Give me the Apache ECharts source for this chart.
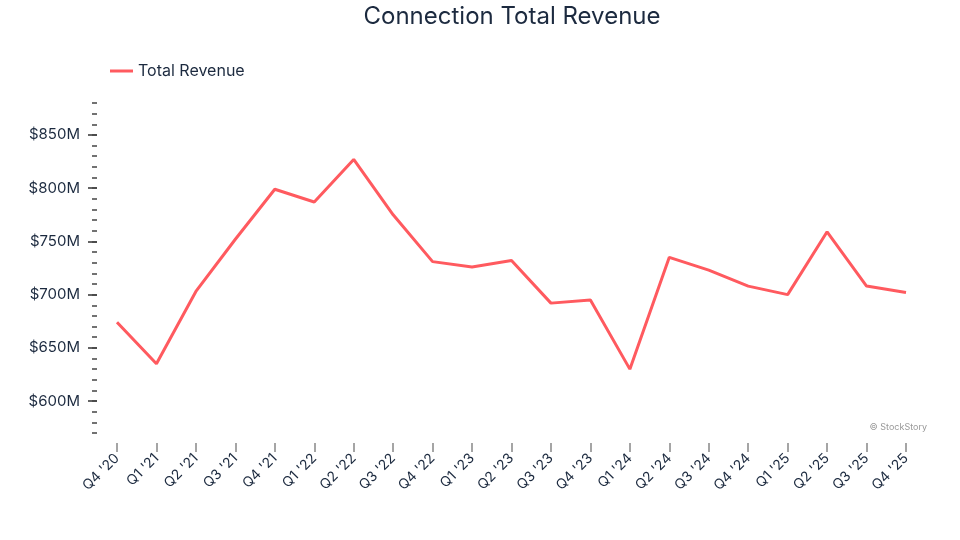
<!DOCTYPE html>
<html>
<head>
<meta charset="utf-8">
<script src="https://cdn.jsdelivr.net/npm/echarts@6/dist/echarts.min.js"></script>
<style>html,body{margin:0;padding:0;background:#fff}#c{width:960px;height:540px}</style>
</head>
<body>
<div id="c"></div>
<script>
const categories = ["Q4 '20","Q1 '21","Q2 '21","Q3 '21","Q4 '21","Q1 '22","Q2 '22","Q3 '22","Q4 '22","Q1 '23","Q2 '23","Q3 '23","Q4 '23","Q1 '24","Q2 '24","Q3 '24","Q4 '24","Q1 '25","Q2 '25","Q3 '25","Q4 '25"];
const revenue = [674, 635, 703, 752, 799, 787, 827, 775, 731, 726, 732, 692, 695, 630, 735, 723, 708, 700, 759, 708, 702];
const majorTicks = [600, 650, 700, 750, 800, 850];
const minorTicks = [570,580,590,600,610,620,630,640,650,660,670,680,690,700,710,720,730,740,750,760,770,780,790,800,810,820,830,840,850,860,870,880];
const yMin = 570, yMax = 880;

const font = "Inter, 'Open Sans', 'Liberation Sans', sans-serif";
const chart = echarts.init(document.getElementById('c'));
chart.setOption({
  animation: false,
  backgroundColor: '#fff',
  legend: {
    left: 105, top: 58,
    itemWidth: 23, itemHeight: 3, itemGap: 8,
    icon: 'rect',
    textStyle: { fontFamily: font, fontSize: 16, color: '#1c2a3f' },
    data: ['Total Revenue']
  },
  graphic: [{
    type: 'text', x: 512, y: 17,
    style: { text: 'Connection Total Revenue', fontFamily: font, fontSize: 24, fill: '#1c2a3f', textAlign: 'center', textVerticalAlign: 'middle' }
  }, {
    type: 'text', right: 33, top: 423,
    style: { text: '© StockStory', fontFamily: font, fontSize: 9, fill: '#999' }
  }],
  grid: { left: 117, right: 54, top: 103, bottom: 107, containLabel: false },
  xAxis: {
    type: 'category', data: categories, boundaryGap: false, offset: 10,
    axisLine: { show: false },
    axisTick: { show: true, length: 9, alignWithLabel: true, lineStyle: { color: '#888', width: 1.5 } },
    axisLabel: { rotate: 45, fontFamily: font, fontSize: 14, color: '#1c2a3f', margin: 13, interval: 0 },
    splitLine: { show: false }
  },
  yAxis: [{
    type: 'value', min: yMin, max: yMax, offset: 20,
    axisLine: { show: false },
    axisTick: { show: true, length: 9, customValues: majorTicks, lineStyle: { color: '#333', width: 1.5 } },
    axisLabel: { customValues: majorTicks, formatter: v => '$' + v + 'M', fontFamily: font, fontSize: 15, color: '#1c2a3f', margin: 17 },
    splitLine: { show: false }
  }, {
    type: 'value', min: yMin, max: yMax, offset: 20, position: 'left',
    axisLine: { show: false },
    axisTick: { show: true, length: 5, customValues: minorTicks, lineStyle: { color: '#444', width: 1.5 } },
    axisLabel: { show: false },
    splitLine: { show: false }
  }],
  series: [{
    name: 'Total Revenue', type: 'line', data: revenue,
    symbol: 'none', smooth: false,
    lineStyle: { color: '#ff5a5f', width: 3 },
    itemStyle: { color: '#ff5a5f' }
  }]
});
</script>
</body>
</html>
